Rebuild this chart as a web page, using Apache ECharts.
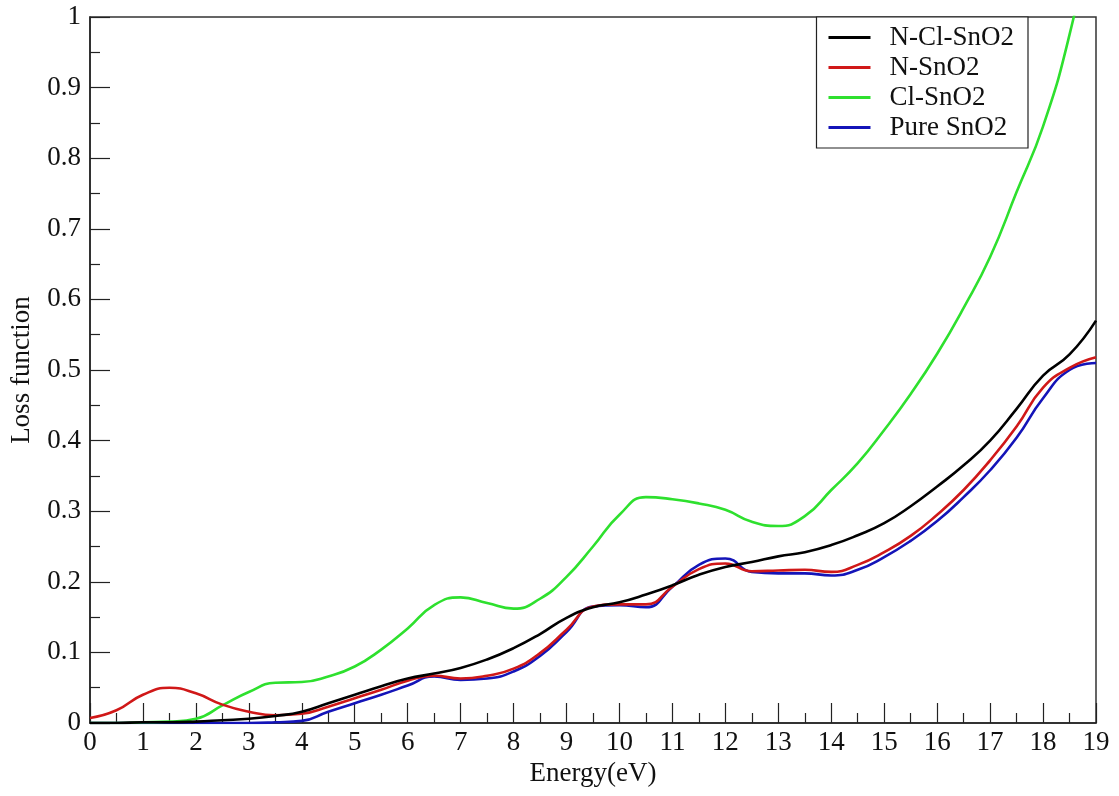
<!DOCTYPE html>
<html>
<head>
<meta charset="utf-8">
<script src="https://cdn.jsdelivr.net/npm/echarts@6/dist/echarts.min.js"></script>
<style>
html,body{margin:0;padding:0;background:#fff;}
#chart{width:1119px;height:796px;}
</style>
</head>
<body>
<div id="chart"></div>
<script>
const energy = [0,0.5,1,1.5,2,2.5,3,3.5,4,4.5,5,5.5,6,6.5,7,7.5,8,8.5,9,9.5,10,10.5,11,11.5,12,12.5,13,13.5,14,14.5,15,15.5,16,16.5,17,17.5,18,18.5,19];
const nClSnO2 = [0,0,0.001,0.001,0.002,0.004,0.006,0.01,0.016,0.028,0.04,0.052,0.063,0.07,0.078,0.09,0.106,0.126,0.149,0.164,0.171,0.182,0.195,0.21,0.221,0.228,0.236,0.242,0.252,0.266,0.283,0.307,0.335,0.365,0.4,0.445,0.492,0.522,0.57];
const nSnO2 = [0.007,0.018,0.04,0.05,0.042,0.026,0.016,0.011,0.013,0.023,0.035,0.047,0.06,0.067,0.063,0.067,0.077,0.099,0.132,0.165,0.168,0.168,0.193,0.218,0.226,0.215,0.216,0.217,0.214,0.224,0.242,0.265,0.295,0.33,0.372,0.42,0.475,0.503,0.518];
const clSnO2 = [0,0,0.001,0.002,0.006,0.025,0.044,0.057,0.058,0.066,0.08,0.104,0.134,0.167,0.178,0.17,0.162,0.176,0.207,0.25,0.295,0.32,0.317,0.311,0.302,0.285,0.279,0.293,0.33,0.368,0.415,0.466,0.523,0.588,0.66,0.752,0.845,0.975,1.15];
const pureSnO2 = [0,0,0,0,0,0,0,0.001,0.003,0.016,0.028,0.04,0.053,0.066,0.061,0.063,0.073,0.095,0.129,0.165,0.167,0.164,0.193,0.224,0.233,0.214,0.212,0.212,0.209,0.217,0.235,0.258,0.286,0.32,0.358,0.404,0.46,0.5,0.51];
const seriesNames = ['N-Cl-SnO2','N-SnO2','Cl-SnO2','Pure SnO2'];
const seriesColors = ['#000000','#d01818','#2ee02e','#1414b8'];
const xTitle = 'Energy(eV)';
const yTitle = 'Loss function';

const font = '"Liberation Serif","DejaVu Serif",serif';
const chart = echarts.init(document.getElementById('chart'), null, {renderer:'canvas'});
const allData = [nClSnO2, nSnO2, clSnO2, pureSnO2];
const series = seriesNames.map((n,i)=>({
  name:n, type:'line', smooth:0.5, showSymbol:false, symbol:'none',
  data: energy.map((x,j)=>[x, allData[i][j]]),
  lineStyle:{color:seriesColors[i], width:2.6},
  itemStyle:{color:seriesColors[i]},
  clip:true, z: 10 - i
}));
chart.setOption({
  animation:false,
  backgroundColor:'#fff',
  grid:{left:87, right:23, top:17, bottom:73, show:true, borderColor:'#333', borderWidth:1.5, backgroundColor:'transparent'},
  legend:{
    data: seriesNames, orient:'vertical', right:91, top:17,
    backgroundColor:'#fff', borderColor:'#222', borderWidth:1.2,
    padding:[7,14,7,12], itemGap:3, itemWidth:42, itemHeight:3, icon:'rect',
    textStyle:{fontFamily:font, fontSize:27, color:'#111', padding:[0,0,0,14]}
  },
  xAxis:{
    type:'value', min:0, max:19, interval:1,
    name:xTitle, nameLocation:'middle', nameGap:37,
    nameTextStyle:{fontFamily:font, fontSize:27, color:'#111'},
    axisLine:{show:true, lineStyle:{color:'#222', width:1.5}},
    axisTick:{show:true, inside:true, length:20, lineStyle:{color:'#222', width:1.2}},
    minorTick:{show:true, splitNumber:2, length:10, lineStyle:{color:'#222', width:1.2}},
    splitLine:{show:false},
    axisLabel:{fontFamily:font, fontSize:27, color:'#111', margin:6}
  },
  yAxis:{
    type:'value', min:0, max:1, interval:0.1,
    name:yTitle, nameLocation:'middle', nameGap:55,
    nameTextStyle:{fontFamily:font, fontSize:27, color:'#111'},
    axisLine:{show:true, lineStyle:{color:'#222', width:1.5}},
    axisTick:{show:true, inside:true, length:20, lineStyle:{color:'#222', width:1.2}},
    minorTick:{show:true, splitNumber:2, length:10, lineStyle:{color:'#222', width:1.2}},
    splitLine:{show:false},
    axisLabel:{fontFamily:font, fontSize:27, color:'#111', margin:9,
      formatter:v=> (Math.round(v*10)/10).toString()}
  },
  series: series
});
</script>
</body>
</html>
